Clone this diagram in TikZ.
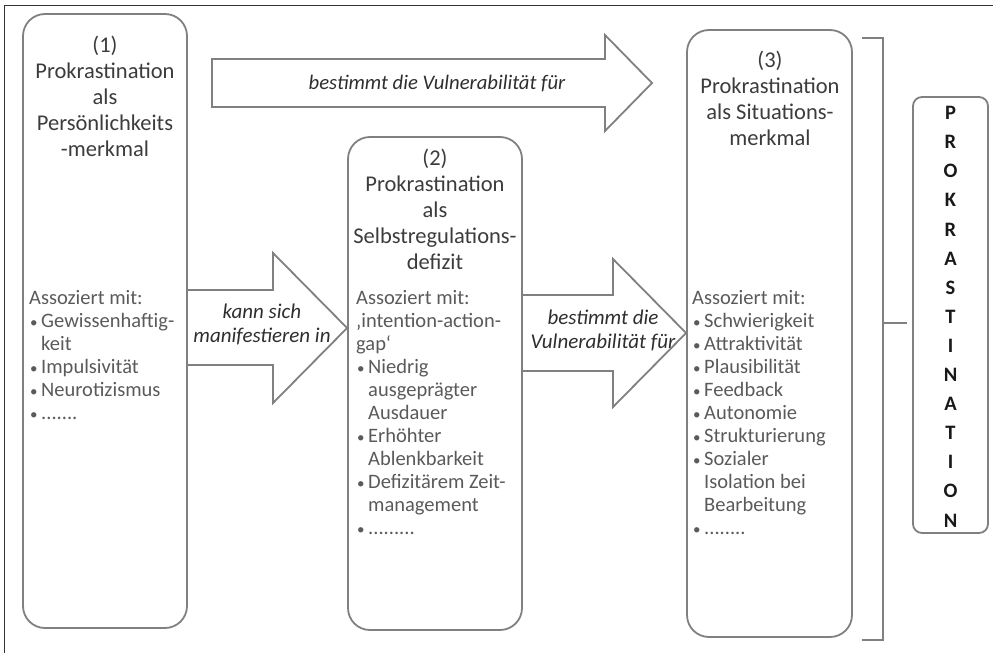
\documentclass[tikz,border=0pt]{standalone}
\usepackage{fontspec}
\setmainfont{Carlito}
\usetikzlibrary{calc}
\definecolor{lineg}{HTML}{808080}
\definecolor{titlec}{HTML}{3C3C3C}
\definecolor{listc}{HTML}{5A5A5A}
\definecolor{labc}{HTML}{2E2E2E}
\definecolor{framec}{HTML}{333333}
\newcommand{\bl}{\makebox[12pt][l]{\hspace*{1pt}{\fontsize{15}{15}\selectfont •}}}
\newcommand{\ct}{\hspace*{12pt}}
\tikzset{
  roundbox/.style={draw=lineg, line width=1.8pt, rounded corners=22pt, inner sep=0pt, rectangle},
  blockarrow/.style={draw=lineg, line width=1.8pt, line join=miter},
  titletext/.style={font=\fontsize{22.5}{26}\selectfont, align=center, text=titlec, inner sep=0pt},
  listtext/.style={font=\fontsize{20.5}{23}\selectfont, align=left, text=listc, inner sep=0pt},
  labeltext/.style={font=\itshape\fontsize{21}{24}\selectfont, align=center, text=labc, inner sep=0pt},
}
\begin{document}
\begin{tikzpicture}[x=1pt,y=-1pt]
\useasboundingbox (0,0) rectangle (993,653);
% frame
\draw[framec, line width=1pt] (4,653) -- (4,5) -- (993,5);
% boxes
\node[roundbox, minimum width=164pt, minimum height=614pt] (b1) at (105,321) {};
\node[roundbox, minimum width=174pt, minimum height=493pt] (b2) at (435,383.5) {};
\node[roundbox, minimum width=165pt, minimum height=607pt] (b3) at (769.5,333.5) {};
\node[roundbox, rounded corners=9pt, minimum width=75pt, minimum height=436pt] (b4) at (950.5,315) {};
% arrows
\draw[blockarrow] (212,59) -- (605,59) -- (605,35) -- (652,83) -- (605,131) -- (605,107) -- (212,107) -- cycle;
\draw[blockarrow] (b1.east |- 0,290) -- (273,290) -- (273,253) -- (b2.west |- 0,328) -- (273,403) -- (273,365) -- (b1.east |- 0,365);
\draw[blockarrow] (b2.east |- 0,295) -- (613,295) -- (613,259) -- (b3.west |- 0,333) -- (613,407) -- (613,371) -- (b2.east |- 0,371);
% bracket
\coordinate (brt) at (862,38);
\coordinate (brb) at (862,640);
\coordinate (brm) at (883,323);
\draw[lineg, line width=1.8pt] (brt) -| (883,640) -- (brb);
\draw[lineg, line width=1.8pt] (brm) -- ++(24,0);
% arrow labels
\node[labeltext, font=\itshape\fontsize{20.7}{24}\selectfont] (l0) at (437,84) {bestimmt die Vulnerabilität für};
\node[labeltext] (l1) at (262,324) {kann sich\\manifestieren in};
\node[labeltext] (l2) at (603,330) {bestimmt die\\Vulnerabilität für};
% titles (anchor base = baseline of last line)
\node[titletext, anchor=base] (t1) at (105,156) {(1)\\Prokrastination\\als\\Persönlichkeits\\-merkmal};
\node[titletext, anchor=base] (t2) at (435,269) {(2)\\Prokrastination\\als\\Selbstregulations-\\defizit};
\node[titletext, anchor=base] (t3) at (770,145) {(3)\\Prokrastination\\als Situations-\\merkmal};
% lists
\node[listtext, anchor=base west] (s1) at (29,419) {Assoziert mit:\\\bl Gewissenhaftig-\\\ct keit\\\bl Impulsivität\\\bl Neurotizismus\\\bl .......};
\node[listtext, anchor=base west] (s2) at (356,534) {Assoziert mit:\\‚intention-action-\\gap‘\\\bl Niedrig\\\ct ausgeprägter\\\ct Ausdauer\\\bl Erhöhter\\\ct Ablenkbarkeit\\\bl Defizitärem Zeit-\\\ct management\\\bl .........};
\node[listtext, anchor=base west] (s3) at (692,534) {Assoziert mit:\\\bl Schwierigkeit\\\bl Attraktivität\\\bl Plausibilität\\\bl Feedback\\\bl Autonomie\\\bl Strukturierung\\\bl Sozialer\\\ct Isolation bei\\\ct Bearbeitung\\\bl ........};
% vertical word
\node[font=\bfseries\fontsize{20.5}{29.1}\selectfont, align=center, text=black!90, inner sep=0pt, anchor=base] (pw) at (950.5,527) {P\\R\\O\\K\\R\\A\\S\\T\\I\\N\\A\\T\\I\\O\\N};
\end{tikzpicture}
\end{document}
